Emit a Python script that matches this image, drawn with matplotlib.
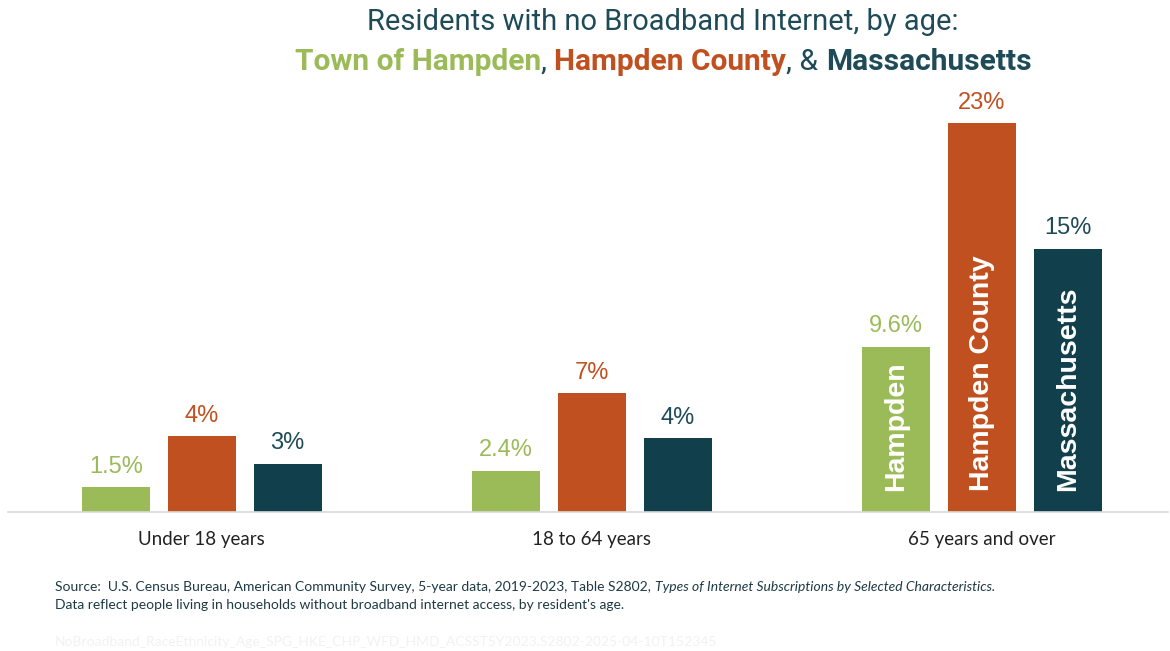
import matplotlib.pyplot as plt
import numpy as np

# data
categories = ['Under 18 years', '18 to 64 years', '65 years and over']
series = ['Hampden', 'Hampden County', 'Massachusetts']
hampden = [1.45, 2.4, 9.6]
county = [4.4, 6.9, 22.6]
mass = [2.8, 4.3, 15.3]
hampden_labels = ['1.5%', '2.4%', '9.6%']
county_labels = ['4%', '7%', '23%']
mass_labels = ['3%', '4%', '15%']

colors = ['#9BBB59', '#C0501F', '#123F4C']
label_colors = ['#9BBB59', '#C0501F', '#1E4B57']
title_color = '#1E4B57'

fig = plt.figure(figsize=(11.7, 6.51), dpi=100)
ax = fig.add_axes([8 / 1170, 139 / 651, 1160 / 1170, 417 / 651])

x = np.arange(len(categories))
width = 0.174
offset = 0.22
values = [hampden, county, mass]
labels = [hampden_labels, county_labels, mass_labels]

for i, (vals, labs) in enumerate(zip(values, labels)):
    pos = x + (i - 1) * offset
    ax.bar(pos, vals, width=width, color=colors[i], edgecolor='none')
    for p, v, lab in zip(pos, vals, labs):
        ax.text(p, v + 0.55, lab, ha='center', va='bottom', fontsize=17,
                color=label_colors[i], family='Liberation Sans')
    # series name inside the tallest group
    ax.text(pos[-1], 1.2, series[i], rotation=90, ha='center', va='bottom',
            fontsize=20.5, fontweight='bold', color='white', family='Liberation Sans')

ax.set_xlim(-0.497, 2.477)
ax.set_ylim(0, 24.24)
for s in ['top', 'right', 'left']:
    ax.spines[s].set_visible(False)
ax.spines['bottom'].set_color('#D9D9D9')
ax.spines['bottom'].set_linewidth(1.2)
ax.set_yticks([])
ax.set_xticks(x)
ax.set_xticklabels(categories, fontsize=13.5, color='#222222', family='Lato')
ax.tick_params(axis='x', length=0, pad=14)

# title, centred a bit right of the figure centre as in the original
cx = 663 / 1170
fig.text(cx, 1 - 22 / 651, 'Residents with no Broadband Internet, by age:', ha='center',
         va='center', fontsize=21, color=title_color, family='Roboto')

parts = [('Town of Hampden', colors[0], 'bold'), (', ', title_color, 'normal'),
         ('Hampden County', colors[1], 'bold'), (', & ', title_color, 'normal'),
         ('Massachusetts', title_color, 'bold')]
fig.canvas.draw()
r = fig.canvas.get_renderer()
texts = []
for s, c, w in parts:
    t = fig.text(0, 1 - 62 / 651, s, ha='left', va='center', fontsize=21.5, color=c,
                 fontweight=w, family='Roboto')
    texts.append(t)
widths = [t.get_window_extent(r).width for t in texts]
total = sum(widths)
xpos = cx * 1170 - total / 2
for t, w in zip(texts, widths):
    t.set_x(xpos / 1170)
    xpos += w

# source notes
y0 = 1 - 587 / 651
first = fig.text(55 / 1170, y0, 'Source:  U.S. Census Bureau, American Community Survey, 5-year data, 2019-2023, Table S2802, ',
                 fontsize=10, color='#1E3A45', family='Lato', va='center')
src = fig.text(0, y0, 'Types of Internet Subscriptions by Selected Characteristics.', fontsize=10,
               color='#1E3A45', family='Lato', style='italic', va='center')
fig.canvas.draw()
src.set_x((first.get_window_extent(r).x1 + 1) / 1170)
fig.text(55 / 1170, 1 - 605 / 651,
         "Data reflect people living in households without broadband internet access, by resident's age.",
         fontsize=10, color='#1E3A45', family='Lato', va='center')
fig.text(55 / 1170, 1 - 642 / 651,
         'NoBroadband_RaceEthnicity_Age_SPG_HKE_CHP_WFD_HMD_ACSST5Y2023.S2802-2025-04-10T152345',
         fontsize=10, color='#F2F2F2', family='Lato', va='center')

fig.savefig('out.png', dpi=100)
